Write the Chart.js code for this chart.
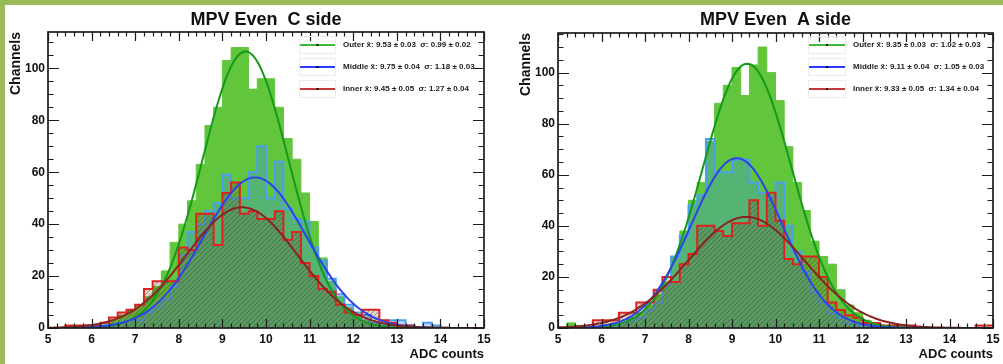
<!DOCTYPE html>
<html>
<head>
<meta charset="utf-8">
<script src="https://cdn.jsdelivr.net/npm/chart.js@4.4.1/dist/chart.umd.min.js"></script>
<style>
  html, body { margin: 0; padding: 0; background: #ffffff; }
  body { width: 1003px; height: 364px; position: relative; overflow: hidden; }
  .edge-top { position: absolute; left: 0; top: 0; width: 1003px; height: 5px; background: #9bbb59; }
  .edge-left { position: absolute; left: 0; top: 0; width: 5px; height: 364px; background: #9bbb59; }
  #sideC { position: absolute; left: 5px; top: 5px; }
  #sideA { position: absolute; left: 500px; top: 5px; }
</style>
</head>
<body>
<div class="edge-top"></div>
<div class="edge-left"></div>
<canvas id="sideC" width="495" height="359"></canvas>
<canvas id="sideA" width="503" height="359"></canvas>
<script>
// Histogram binning: 50 bins of 0.2 ADC counts from 5 to 15
const binStart = 5;
const binWidth = 0.2;
const xTickValues = [5, 6, 7, 8, 9, 10, 11, 12, 13, 14, 15];
const yTickValues = [0, 20, 40, 60, 80, 100];
const seriesNames = ['Outer', 'Middle', 'Inner'];
const panelTitles = ['MPV Even  C side', 'MPV Even  A side'];

// C side: channel counts per bin
const cOuter = [0, 0, 0, 0, 0, 0, 1, 3, 5, 7, 9, 12, 16, 22, 33, 40, 49, 63, 78, 85,
                103, 108, 108, 92, 96, 96, 85, 73, 65, 52, 41, 27, 18, 12, 8, 5, 3, 2, 1, 1,
                0, 0, 0, 0, 0, 0, 0, 0, 0, 0];
const cMiddle = [0, 0, 0, 0, 0, 0, 1, 1, 2, 3, 3, 6, 8, 11, 16, 28, 37, 40, 45, 48,
                 59, 50, 50, 60, 70, 50, 64, 46, 42, 41, 31, 26, 19, 13, 9, 6, 5, 2, 1, 3,
                 3, 1, 0, 2, 1, 0, 0, 0, 0, 0];
const cInner = [0, 0, 1, 1, 1, 1, 2, 4, 6, 7, 9, 15, 18, 18, 18, 31, 30, 44, 44, 32,
                52, 56, 44, 45, 42, 42, 45, 34, 37, 25, 20, 15, 14, 9, 6, 5, 7, 7, 3, 2,
                1, 1, 0, 0, 0, 0, 0, 0, 0, 0];

// A side: channel counts per bin
const aOuter = [0, 2, 1, 0, 0, 1, 1, 2, 4, 6, 9, 13, 18, 28, 38, 50, 57, 73, 88, 95,
                102, 91, 103, 110, 100, 89, 71, 57, 46, 34, 28, 25, 15, 9, 6, 3, 2, 1, 1, 0,
                0, 0, 0, 0, 0, 0, 0, 0, 0, 0];
const aMiddle = [0, 0, 0, 0, 0, 1, 1, 2, 3, 4, 7, 10, 17, 28, 36, 48, 52, 74, 61, 61,
                 66, 66, 57, 53, 51, 57, 40, 30, 22, 14, 10, 6, 4, 2, 1, 1, 1, 0, 0, 0,
                 0, 0, 0, 0, 0, 0, 0, 0, 0, 0];
const aInner = [0, 0, 0, 0, 3, 3, 3, 6, 6, 10, 10, 15, 20, 18, 25, 29, 40, 40, 38, 36,
                41, 41, 50, 40, 53, 42, 27, 25, 28, 28, 20, 10, 7, 5, 4, 2, 2, 1, 1, 1,
                1, 0, 0, 0, 0, 0, 0, 0, 1, 1];

// Gaussian fit results (mean, sigma with errors; amplitude of the fitted curve)
const cFitMean = [9.53, 9.75, 9.45];
const cFitMeanErr = [0.03, 0.04, 0.05];
const cFitSigma = [0.99, 1.18, 1.27];
const cFitSigmaErr = [0.02, 0.03, 0.04];
const cFitPeak = [106.5, 58, 46.5];

const aFitMean = [9.35, 9.11, 9.33];
const aFitMeanErr = [0.03, 0.04, 0.05];
const aFitSigma = [1.02, 1.05, 1.34];
const aFitSigmaErr = [0.03, 0.03, 0.04];
const aFitPeak = [103.5, 66.5, 43.5];

const FONT = '"Liberation Sans", Arial, Helvetica, sans-serif';
const histLine = ['rgba(98,198,60,1)', '#4a9ff0', '#e0221e'];
const fitLine = ['#139a1a', '#2b43e8', '#8a2420'];
const legendLine = ['#3cb83c', '#2a3cff', '#c83a3a'];

function histPoints(counts) {
  const pts = counts.map((c, k) => ({ x: +(binStart + k * binWidth).toFixed(2), y: c }));
  pts.push({ x: +(binStart + counts.length * binWidth).toFixed(2), y: counts[counts.length - 1] });
  return pts;
}

function gaussPoints(peak, mean, sigma) {
  const pts = [];
  const xEnd = binStart + 50 * binWidth;
  for (let x = binStart; x <= xEnd + 1e-9; x += 0.05) {
    const t = (x - mean) / sigma;
    pts.push({ x: x, y: peak * Math.exp(-0.5 * t * t) });
  }
  return pts;
}

function hatchPattern(ctx) {
  const tile = document.createElement('canvas');
  tile.width = 5; tile.height = 5;
  const g = tile.getContext('2d');
  g.fillStyle = 'rgba(120,70,40,0.22)';
  g.fillRect(0, 0, 5, 5);
  g.strokeStyle = 'rgba(35,70,30,0.45)';
  g.lineWidth = 1;
  g.beginPath();
  g.moveTo(-1, 6); g.lineTo(6, -1);
  g.moveTo(-1, 1); g.lineTo(1, -1);
  g.moveTo(4, 6); g.lineTo(6, 4);
  g.stroke();
  return ctx.createPattern(tile, 'repeat');
}

function legendText(i, means, meanErr, sigmas, sigmaErr) {
  return seriesNames[i] + ' x\u0304: ' + means[i].toFixed(2) + ' \u00b1 ' + meanErr[i].toFixed(2) +
         '  \u03c3: ' + sigmas[i].toFixed(2) + ' \u00b1 ' + sigmaErr[i].toFixed(2);
}

// Frame, inward ticks, titles and the fit legend in ROOT style
const rootStyle = {
  id: 'rootStyle',
  afterDatasetsDraw(chart, args, o) {
    const { ctx, chartArea: a, scales } = chart;
    const xs = scales.x, ys = scales.y;
    ctx.save();
    ctx.strokeStyle = '#1c1c1c';
    ctx.lineWidth = 1.2;
    ctx.beginPath();
    const nx = Math.round((xs.max - xs.min) / binWidth);
    for (let i = 0; i <= nx; i++) {
      const px = Math.round(xs.getPixelForValue(xs.min + i * binWidth)) + 0.5;
      const len = i % 5 === 0 ? 9 : 4.5;
      ctx.moveTo(px, a.bottom); ctx.lineTo(px, a.bottom - len);
      ctx.moveTo(px, a.top); ctx.lineTo(px, a.top + len);
    }
    for (let v = 0; v <= ys.max; v += 5) {
      const py = Math.round(ys.getPixelForValue(v)) + 0.5;
      const len = v % 20 === 0 ? 11 : 5.5;
      ctx.moveTo(a.left, py); ctx.lineTo(a.left + len, py);
      ctx.moveTo(a.right, py); ctx.lineTo(a.right - len, py);
    }
    ctx.stroke();
    ctx.lineWidth = 1.7;
    ctx.strokeRect(a.left, a.top, a.right - a.left, a.bottom - a.top);

    // panel title
    ctx.fillStyle = '#111';
    ctx.font = 'bold 18px ' + FONT;
    ctx.textAlign = 'center';
    ctx.textBaseline = 'middle';
    ctx.fillText(o.title, (a.left + a.right) / 2, o.titleY);

    // axis titles
    ctx.font = 'bold 13px ' + FONT;
    ctx.textAlign = 'right';
    ctx.textBaseline = 'alphabetic';
    ctx.fillText('ADC counts', a.right, o.xTitleY);
    ctx.save();
    ctx.translate(o.yTitleX, a.top);
    ctx.rotate(-Math.PI / 2);
    ctx.font = 'bold 14px ' + FONT;
    ctx.textAlign = 'right';
    ctx.textBaseline = 'middle';
    ctx.fillText('Channels', 0, 0);
    ctx.restore();

    // legend
    o.legend.forEach((e, i) => {
      const yy = o.legendY[i];
      ctx.strokeStyle = '#ececec';
      ctx.lineWidth = 1;
      ctx.strokeRect(o.lineX[0] - 0.5, yy - 8.5, o.lineX[1] - o.lineX[0] + 1, 17);
      ctx.strokeStyle = e.color;
      ctx.lineWidth = 2.2;
      ctx.beginPath(); ctx.moveTo(o.lineX[0], yy); ctx.lineTo(o.lineX[1], yy); ctx.stroke();
      ctx.fillStyle = '#000';
      ctx.fillRect((o.lineX[0] + o.lineX[1]) / 2 - 1, yy - 1, 2, 2);
      ctx.font = 'bold 8px ' + FONT;
      ctx.textAlign = 'left';
      ctx.textBaseline = 'middle';
      ctx.fillStyle = '#222';
      ctx.fillText(e.text, o.textX, yy);
    });
    ctx.restore();
  }
};

function buildPanel(canvasId, counts, fit, yMax, geom, title, legend) {
  const canvas = document.getElementById(canvasId);
  const ctx = canvas.getContext('2d');
  const fills = [histLine[0], 'rgba(60,140,232,0.33)', hatchPattern(ctx)];
  const datasets = [];
  counts.forEach((c, i) => {
    datasets.push({
      label: seriesNames[i],
      data: histPoints(c),
      stepped: true,
      borderColor: histLine[i],
      borderWidth: i === 0 ? 1 : 2,
      backgroundColor: fills[i],
      fill: 'origin',
      pointRadius: 0,
      order: 10 - i
    });
  });
  fit.peak.forEach((p, i) => {
    datasets.push({
      label: seriesNames[i] + ' fit',
      data: gaussPoints(p, fit.mean[i], fit.sigma[i]),
      borderColor: fitLine[i],
      borderWidth: 2,
      fill: false,
      pointRadius: 0,
      tension: 0,
      order: 3 - i
    });
  });

  return new Chart(ctx, {
    type: 'line',
    data: { datasets },
    options: {
      responsive: false,
      animation: false,
      events: [],
      layout: { autoPadding: false, padding: { top: geom.top, right: geom.right, left: 0, bottom: 0 } },
      plugins: {
        legend: { display: false },
        title: { display: false },
        tooltip: { enabled: false },
        rootStyle: {
          title: title,
          titleY: 15,
          xTitleY: 353,
          yTitleX: geom.yTitleX,
          legend: legend,
          legendY: [40, 62, 84],
          lineX: geom.lineX,
          textX: geom.textX
        }
      },
      scales: {
        x: {
          type: 'linear',
          min: xTickValues[0],
          max: xTickValues[xTickValues.length - 1],
          grid: { display: false, drawTicks: false },
          border: { display: false },
          afterBuildTicks: s => { s.ticks = xTickValues.map(v => ({ value: v })); },
          afterFit: s => { s.height = geom.xAxisH; s.paddingLeft = 0; s.paddingRight = 0; },
          ticks: {
            autoSkip: false, maxRotation: 0, padding: 4,
            color: '#111', font: { family: FONT, size: 12, weight: 'bold' }
          }
        },
        y: {
          type: 'linear',
          min: 0,
          max: yMax,
          grid: { display: false, drawTicks: false },
          border: { display: false },
          afterBuildTicks: s => { s.ticks = yTickValues.map(v => ({ value: v })); },
          afterFit: s => { s.width = geom.yAxisW; s.paddingTop = 0; s.paddingBottom = 0; },
          ticks: {
            padding: 3,
            color: '#111', font: { family: FONT, size: 12, weight: 'bold' }
          }
        }
      }
    },
    plugins: [rootStyle]
  });
}

buildPanel('sideC', [cOuter, cMiddle, cInner],
  { mean: cFitMean, sigma: cFitSigma, peak: cFitPeak }, 114,
  { top: 27, right: 16, xAxisH: 36, yAxisW: 43, yTitleX: 11.5, lineX: [295, 330], textX: 338 },
  panelTitles[0],
  [0, 1, 2].map(i => ({ color: legendLine[i],
                        text: legendText(i, cFitMean, cFitMeanErr, cFitSigma, cFitSigmaErr) })));

buildPanel('sideA', [aOuter, aMiddle, aInner],
  { mean: aFitMean, sigma: aFitSigma, peak: aFitPeak }, 115.5,
  { top: 28, right: 10, xAxisH: 36, yAxisW: 58, yTitleX: 26.5, lineX: [309, 345], textX: 353 },
  panelTitles[1],
  [0, 1, 2].map(i => ({ color: legendLine[i],
                        text: legendText(i, aFitMean, aFitMeanErr, aFitSigma, aFitSigmaErr) })));
</script>
</body>
</html>
